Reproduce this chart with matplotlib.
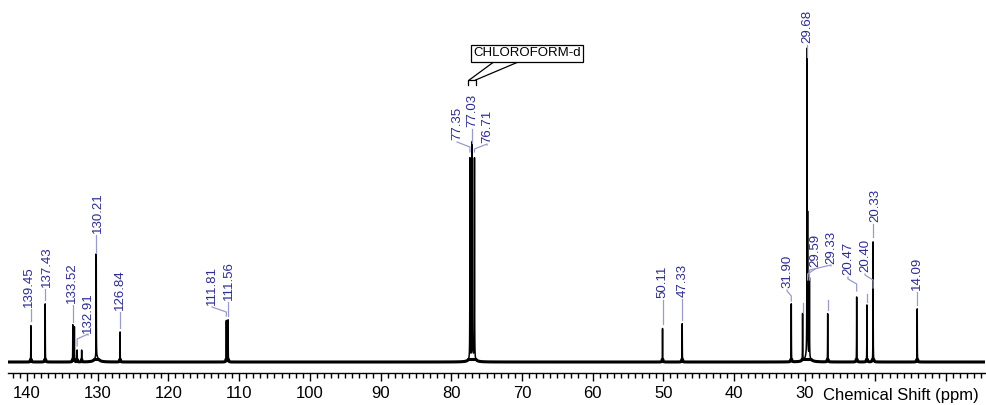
import numpy as np
import matplotlib.pyplot as plt
from matplotlib.ticker import MultipleLocator, FixedLocator

plt.rcParams['font.family'] = ['Liberation Sans', 'DejaVu Sans']
plt.rcParams['path.simplify'] = False

# peak list (ppm, intensity in arbitrary units)
peak_ppm = [139.45, 137.43, 133.52, 133.30, 132.91, 132.27, 130.21, 126.84,
            111.81, 111.56, 77.35, 77.03, 76.71, 50.11, 47.33, 31.90, 30.30,
            29.68, 29.59, 29.33, 26.75, 22.65, 21.20, 20.33, 14.09]
peak_height = [37, 59, 37, 35, 12, 12, 105, 30,
               42, 42, 204, 217, 204, 34, 39, 58, 47,
               302, 135, 80, 49, 66, 57, 122, 54]

# broad feet under the strongest lines
foot_ppm = [130.15, 77.03, 29.60]
foot_height = [5, 6, 8]

# printed peak labels
label_values = ["139.45", "137.43", "133.52", "132.91", "130.21", "126.84",
                "111.81", "111.56", "77.35", "77.03", "76.71", "50.11", "47.33",
                "31.90", "29.68", "29.59", "29.33", "20.47", "20.40", "20.33",
                "14.09"]
# where each label's leader line ends (ppm)
label_target = [139.45, 137.43, 133.52, 132.91, 130.21, 126.84,
                111.81, 111.56, 77.35, 77.03, 76.71, 50.11, 47.33,
                31.90, 29.68, 29.59, 29.33, 22.65, 20.33, 20.33,
                14.09]
# unlabeled leader stubs
stub_ppm = [30.30, 26.75, 21.20]

solvent_name = "CHLOROFORM-d"
x_ticks = [140, 130, 120, 110, 100, 90, 80, 70, 60, 50, 40, 30, 20, 10]
x_tick_labels = ["140", "130", "120", "110", "100", "90", "80", "70", "60",
                 "50", "40", "30", "", ""]

# label layout: text x (ppm), text bottom, elbow height, leader end height
label_layout = [
    (139.70, 55, 47, 41), (137.17, 75, 68, 62), (133.64, 59, 50, 40),
    (131.37, 29, 25, 16), (129.96, 129, 120, 109), (126.85, 52, 40, 34),
    (113.83, 57, 52, 46), (111.43, 62, 55, 46), (79.18, 222, 217, 210),
    (77.06, 235, 226, 219), (74.94, 219, 215, 210), (50.18, 64, 50, 38),
    (47.21, 65, 50, 42), (32.50, 74, 68, 61), (29.67, 319, 310, 305),
    (28.54, 95, 90, 82), (26.28, 98, 94, 82), (23.88, 87, 80, 71),
    (21.47, 90, 84, 74), (20.06, 140, 132, 125), (14.12, 72, 62, 57),
]
stub_layout = [(50, 59), (52, 62), (60, 68)]

label_color = "#2b2b98"
leader_color = "#9a9ad2"

# build spectrum from the peak list
ppm = np.arange(4.5, 142.75, 0.004)
spec = np.zeros_like(ppm)
for c, h in zip(peak_ppm, peak_height):
    w = 0.016
    spec += h * w**2 / ((ppm - c)**2 + w**2)
for c, h in zip(foot_ppm, foot_height):
    w = 0.3
    spec += h * w**2 / ((ppm - c)**2 + w**2)

fig = plt.figure(figsize=(9.87, 4.05), dpi=100)
ax = fig.add_axes([8/987, 32/405, 977/987, 373/405])
ax.plot(ppm, spec, color='black', lw=1.1)
# thicker baseline trace, like the noisy baseline of the original
ax.plot(ppm, np.minimum(spec, 2.5), color='black', lw=2.2)
ax.set_xlim(142.69, 4.5)
ax.set_ylim(-11, 362)

for s in ['top', 'left', 'right']:
    ax.spines[s].set_visible(False)
ax.spines['bottom'].set_linewidth(1.0)
ax.set_yticks([])
ax.xaxis.set_major_locator(FixedLocator(x_ticks))
ax.set_xticklabels(x_tick_labels)
ax.xaxis.set_minor_locator(MultipleLocator(1))
ax.tick_params(axis='x', which='major', direction='out', length=6, width=1,
               labelsize=12, pad=3)
ax.tick_params(axis='x', which='minor', direction='out', length=3.8, width=1)

fig.text(823/987, 5/405, "Chemical Shift (ppm)", fontsize=12,
         ha='left', va='baseline')

# peak labels with leader lines
for txt, tgt, (tx, tb, elbow, end) in zip(label_values, label_target, label_layout):
    ax.text(tx, tb, txt, rotation=90, ha='center', va='bottom',
            fontsize=9.5, color=label_color)
    if abs(tx - tgt) < 0.3:
        ax.plot([tgt, tgt], [tb - 2, end], color=leader_color, lw=0.9)
    else:
        ax.plot([tx, tx, tgt, tgt], [tb - 2, elbow + 3, elbow - 2, end],
                color=leader_color, lw=0.9)

for p, (lo, hi) in zip(stub_ppm, stub_layout):
    ax.plot([p, p], [lo, hi], color=leader_color, lw=0.9)

# solvent annotation
ax.text(69.28, 308.5, solvent_name, fontsize=9.5, ha='center', va='center',
        bbox=dict(boxstyle='square,pad=0.2', fc='white', ec='black', lw=0.9))
ax.plot([74.09, 77.45], [299.5, 282], color='black', lw=0.9)
ax.plot([70.69, 76.55], [299.5, 282], color='black', lw=0.9)
ax.plot([77.62, 77.62, 76.49, 76.49], [277, 282, 282, 277], color='black', lw=0.9)

fig.savefig("out.png", dpi=100)
